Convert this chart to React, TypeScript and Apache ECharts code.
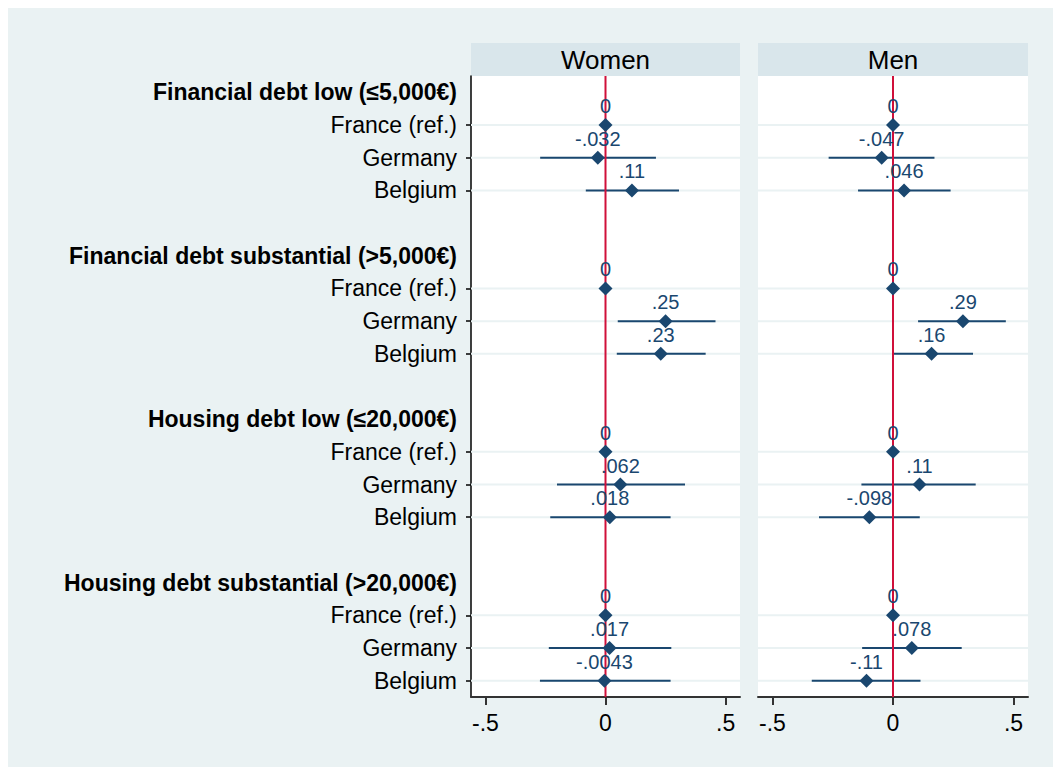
import React, { useEffect, useRef } from 'react';
import * as echarts from 'echarts';

const groups = [
  'Financial debt low (≤5,000€)',
  'Financial debt substantial (>5,000€)',
  'Housing debt low (≤20,000€)',
  'Housing debt substantial (>20,000€)',
];
const countries = ['France (ref.)', 'Germany', 'Belgium'];
const panels = ['Women', 'Men'];

// estimates and 95% CI per group (rows) x country (cols)
const womenEst = [
  [0, -0.032, 0.11],
  [0, 0.25, 0.23],
  [0, 0.062, 0.018],
  [0, 0.017, -0.0043],
];
const womenLo = [
  [0, -0.272, -0.082],
  [0, 0.051, 0.047],
  [0, -0.202, -0.23],
  [0, -0.236, -0.273],
];
const womenHi = [
  [0, 0.21, 0.306],
  [0, 0.458, 0.417],
  [0, 0.331, 0.271],
  [0, 0.274, 0.271],
];
const menEst = [
  [0, -0.047, 0.046],
  [0, 0.29, 0.16],
  [0, 0.11, -0.098],
  [0, 0.078, -0.11],
];
const menLo = [
  [0, -0.267, -0.145],
  [0, 0.104, -0.003],
  [0, -0.131, -0.307],
  [0, -0.128, -0.337],
];
const menHi = [
  [0, 0.172, 0.239],
  [0, 0.468, 0.332],
  [0, 0.343, 0.111],
  [0, 0.285, 0.114],
];

const xTicks = [-0.5, 0, 0.5];
const xMin = -0.56;
const xMax = 0.56;
const refValue = 0;

const FONT = '"Liberation Sans", Arial, Helvetica, sans-serif';
const NAVY = '#1a476f';
const RED = '#d0103a';

function fmt(v: number): string {
  if (v === 0) return '0';
  return Number(v.toPrecision(2)).toString().replace(/^(-?)0\./, '$1.');
}

// build rows
const rowLabels: string[] = [];
const rowKind: string[] = [];
groups.forEach((g, gi) => {
  rowLabels.push(g);
  rowKind.push('h');
  countries.forEach((c) => {
    rowLabels.push(c);
    rowKind.push('c');
  });
  if (gi < groups.length - 1) {
    rowLabels.push('');
    rowKind.push('b');
  }
});
const categories = rowLabels.map((_, i) => 'row' + i);
const rowIndex = (gi: number, ci: number) => gi * (countries.length + 2) + 1 + ci;

const panelData = [
  { est: womenEst, lo: womenLo, hi: womenHi },
  { est: menEst, lo: menLo, hi: menHi },
];

export default function App() {
  const ref = useRef<HTMLDivElement>(null);
  useEffect(() => {
    if (!ref.current) return;
    const chart = echarts.init(ref.current, undefined, { renderer: 'svg' });

    const gridDefs = [
      { left: 463, top: 68, width: 269, height: 621 },
      { left: 750, top: 68, width: 270, height: 621 },
    ];

    const series: any[] = [];
    panelData.forEach((pd, p) => {
      const gridRows: number[][] = [];
      const ci: number[][] = [];
      const pts: number[][] = [];
      groups.forEach((_, gi) => {
        countries.forEach((_, c) => {
          const idx = rowIndex(gi, c);
          gridRows.push([0, idx]);
          ci.push([pd.lo[gi][c], pd.hi[gi][c], idx]);
          pts.push([pd.est[gi][c], idx]);
        });
      });
      series.push({
        type: 'custom',
        xAxisIndex: p,
        yAxisIndex: p,
        z: 1,
        silent: true,
        encode: { x: 0, y: 1 },
        data: gridRows,
        renderItem: (params: any, api: any) => {
          const y = api.coord([0, api.value(1)])[1];
          const cs = params.coordSys;
          return {
            type: 'line',
            shape: { x1: cs.x, y1: y, x2: cs.x + cs.width, y2: y },
            style: { stroke: '#eaf2f3', lineWidth: 2 },
          };
        },
      });
      series.push({
        type: 'custom',
        xAxisIndex: p,
        yAxisIndex: p,
        z: 2,
        silent: true,
        encode: { x: [0, 1], y: 2 },
        data: ci,
        renderItem: (params: any, api: any) => {
          const a = api.coord([api.value(0), api.value(2)]);
          const b = api.coord([api.value(1), api.value(2)]);
          return {
            type: 'line',
            shape: { x1: a[0], y1: a[1], x2: b[0], y2: b[1] },
            style: { stroke: NAVY, lineWidth: 2 },
          };
        },
      });
      series.push({
        type: 'custom',
        xAxisIndex: p,
        yAxisIndex: p,
        z: 3,
        silent: true,
        encode: { x: 0, y: 1 },
        data: [[refValue, 0]],
        renderItem: (params: any, api: any) => {
          const x = api.coord([api.value(0), 0])[0];
          const cs = params.coordSys;
          return {
            type: 'line',
            shape: { x1: x, y1: cs.y, x2: x, y2: cs.y + cs.height },
            style: { stroke: RED, lineWidth: 2 },
          };
        },
      });
      series.push({
        type: 'scatter',
        xAxisIndex: p,
        yAxisIndex: p,
        z: 4,
        symbol: 'diamond',
        symbolSize: 14,
        itemStyle: { color: NAVY, opacity: 1 },
        data: pts,
        label: {
          show: true,
          position: 'top',
          distance: 2,
          formatter: (prm: any) => fmt(prm.value[0]),
          color: NAVY,
          fontSize: 20,
          fontFamily: FONT,
          textBorderWidth: 0,
        },
      });
    });

    const graphic: any[] = [];
    panels.forEach((name, p) => {
      const g = gridDefs[p];
      graphic.push({
        type: 'rect',
        shape: { x: g.left, y: 35, width: g.width, height: 33 },
        style: { fill: '#d9e6eb' },
        silent: true,
      });
      graphic.push({
        type: 'text',
        x: g.left + g.width / 2,
        y: 35 + 17,
        style: {
          text: name,
          fontSize: 26,
          fill: '#000',
          align: 'center',
          verticalAlign: 'middle',
          fontFamily: FONT,
        },
        silent: true,
      });
    });

    chart.setOption({
      animation: false,
      backgroundColor: '#eaf2f3',
      textStyle: { fontFamily: FONT },
      grid: gridDefs.map((g) => ({
        ...g,
        show: true,
        backgroundColor: '#ffffff',
        borderWidth: 0,
      })),
      xAxis: panels.map((_, p) => ({
        type: 'value',
        gridIndex: p,
        min: xMin,
        max: xMax,
        splitLine: { show: false },
        axisLine: { show: true, onZero: false, lineStyle: { color: '#333', width: 2 } },
        axisTick: {
          show: true,
          customValues: xTicks,
          length: 8,
          lineStyle: { color: '#333', width: 2 },
        },
        axisLabel: {
          customValues: xTicks,
          formatter: (v: number) => fmt(v),
          fontSize: 23,
          color: '#000',
          margin: 14,
          fontFamily: FONT,
        },
      })),
      yAxis: panels.map((_, p) => ({
        type: 'category',
        gridIndex: p,
        data: categories,
        inverse: true,
        splitLine: { show: false },
        axisLine: {
          show: p === 0,
          onZero: false,
          lineStyle: { color: '#000', width: 1.5 },
        },
        axisTick: {
          show: p === 0,
          alignWithLabel: true,
          interval: (i: number) => rowKind[i] === 'c',
          length: 5,
          lineStyle: { color: '#000', width: 1.5 },
        },
        axisLabel: {
          show: p === 0,
          interval: 0,
          margin: 14,
          formatter: (_v: string, i: number) => {
            if (rowKind[i] === 'h') return '{h|' + rowLabels[i] + '}';
            if (rowKind[i] === 'c') return '{c|' + rowLabels[i] + '}';
            return '';
          },
          rich: {
            h: { fontWeight: 'bold', fontSize: 23, color: '#000', fontFamily: FONT },
            c: { fontSize: 23, color: '#000', fontFamily: FONT },
          },
        },
      })),
      graphic,
      series,
    });

    return () => chart.dispose();
  }, []);

  return (
    <div
      ref={ref}
      style={{ position: 'fixed', left: 8, top: 8, width: 1045, height: 759 }}
    />
  );
}
